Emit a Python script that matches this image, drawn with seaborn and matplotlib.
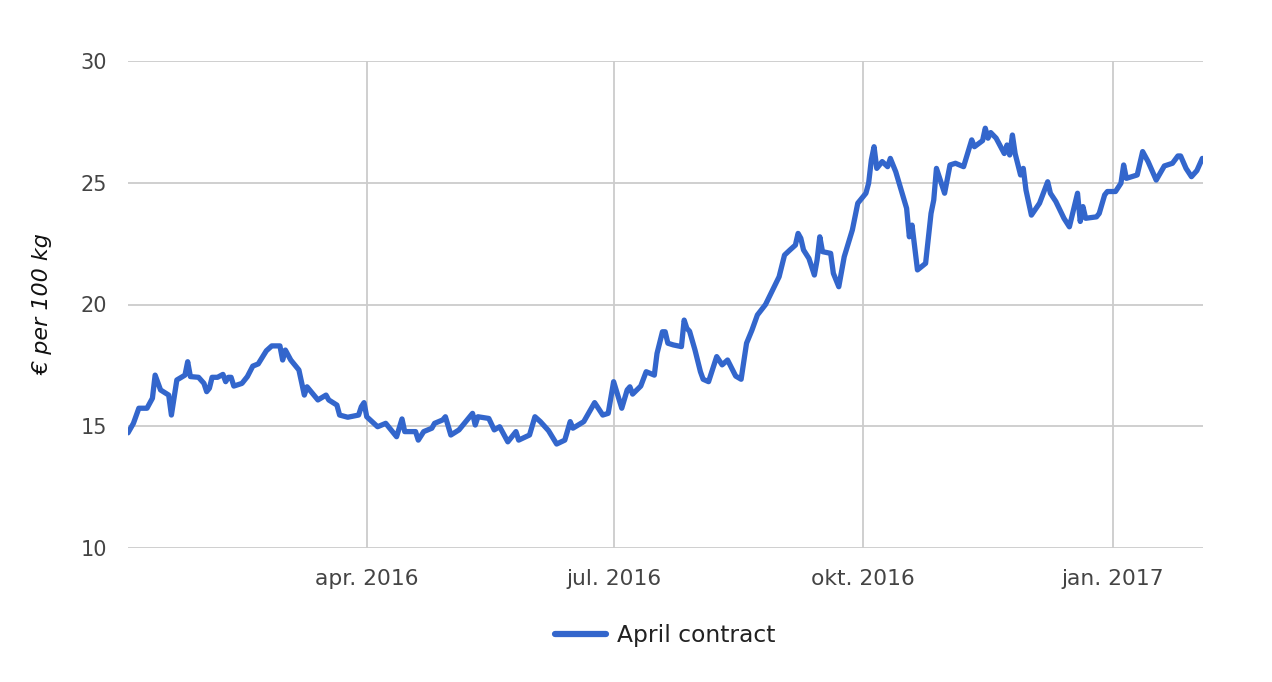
import matplotlib
matplotlib.use("Agg")
import matplotlib.pyplot as plt
import matplotlib.ticker as mticker
import matplotlib.dates as mdates
import seaborn as sns
import pandas as pd

dates = [
    "2016-01-04", "2016-01-06", "2016-01-08", "2016-01-11", "2016-01-13", "2016-01-14",
    "2016-01-16", "2016-01-19", "2016-01-20", "2016-01-22", "2016-01-25", "2016-01-26",
    "2016-01-27", "2016-01-30", "2016-02-01", "2016-02-02", "2016-02-03", "2016-02-04",
    "2016-02-06", "2016-02-08", "2016-02-09", "2016-02-10", "2016-02-11", "2016-02-12",
    "2016-02-15", "2016-02-17", "2016-02-19", "2016-02-21", "2016-02-24", "2016-02-26",
    "2016-02-29", "2016-03-01", "2016-03-02", "2016-03-04", "2016-03-07", "2016-03-09",
    "2016-03-10", "2016-03-14", "2016-03-17", "2016-03-18", "2016-03-21", "2016-03-22",
    "2016-03-25", "2016-03-29", "2016-03-30", "2016-03-31", "2016-04-01", "2016-04-05",
    "2016-04-08", "2016-04-12", "2016-04-14", "2016-04-15", "2016-04-17", "2016-04-19",
    "2016-04-20", "2016-04-22", "2016-04-25", "2016-04-26", "2016-04-29", "2016-04-30",
    "2016-05-02", "2016-05-05", "2016-05-10", "2016-05-11", "2016-05-12", "2016-05-16",
    "2016-05-18", "2016-05-20", "2016-05-23", "2016-05-26", "2016-05-27", "2016-05-31",
    "2016-06-02", "2016-06-04", "2016-06-07", "2016-06-10", "2016-06-13", "2016-06-15",
    "2016-06-16", "2016-06-20", "2016-06-24", "2016-06-27", "2016-06-29", "2016-07-01",
    "2016-07-04", "2016-07-06", "2016-07-07", "2016-07-08", "2016-07-11", "2016-07-13",
    "2016-07-16", "2016-07-17", "2016-07-19", "2016-07-20", "2016-07-21", "2016-07-23",
    "2016-07-26", "2016-07-27", "2016-07-28", "2016-07-29", "2016-07-31", "2016-08-02",
    "2016-08-03", "2016-08-05", "2016-08-08", "2016-08-10", "2016-08-12", "2016-08-15",
    "2016-08-17", "2016-08-19", "2016-08-21", "2016-08-23", "2016-08-26", "2016-08-28",
    "2016-08-31", "2016-09-02", "2016-09-04", "2016-09-06", "2016-09-07", "2016-09-08",
    "2016-09-09", "2016-09-11", "2016-09-13", "2016-09-14", "2016-09-15", "2016-09-16",
    "2016-09-19", "2016-09-20", "2016-09-22", "2016-09-24", "2016-09-27", "2016-09-29",
    "2016-10-02", "2016-10-03", "2016-10-04", "2016-10-05", "2016-10-06", "2016-10-08",
    "2016-10-10", "2016-10-11", "2016-10-13", "2016-10-17", "2016-10-18", "2016-10-19",
    "2016-10-21", "2016-10-24", "2016-10-26", "2016-10-27", "2016-10-28", "2016-10-31",
    "2016-11-02", "2016-11-04", "2016-11-07", "2016-11-10", "2016-11-11", "2016-11-14",
    "2016-11-15", "2016-11-16", "2016-11-17", "2016-11-19", "2016-11-22", "2016-11-23",
    "2016-11-24", "2016-11-25", "2016-11-26", "2016-11-28", "2016-11-29", "2016-11-30",
    "2016-12-02", "2016-12-05", "2016-12-08", "2016-12-09", "2016-12-11", "2016-12-14",
    "2016-12-16", "2016-12-19", "2016-12-20", "2016-12-21", "2016-12-22", "2016-12-26",
    "2016-12-27", "2016-12-29", "2016-12-30", "2017-01-02", "2017-01-04", "2017-01-05",
    "2017-01-06", "2017-01-10", "2017-01-12", "2017-01-14", "2017-01-17", "2017-01-20",
    "2017-01-23", "2017-01-25", "2017-01-26", "2017-01-28", "2017-01-30", "2017-02-01",
    "2017-02-03",
]

april_contract = [
    14.73, 15.12, 15.74, 15.74, 16.15, 17.10,
    16.49, 16.28, 15.46, 16.90, 17.10, 17.65,
    17.04, 17.01, 16.76, 16.42, 16.56, 17.01,
    17.01, 17.13, 16.83, 17.01, 17.01, 16.65,
    16.76, 17.04, 17.47, 17.56, 18.10, 18.30,
    18.30, 17.72, 18.13, 17.72, 17.31, 16.28,
    16.62, 16.08, 16.28, 16.08, 15.87, 15.46,
    15.37, 15.46, 15.80, 15.97, 15.39, 14.98,
    15.12, 14.57, 15.30, 14.78, 14.78, 14.78,
    14.43, 14.78, 14.92, 15.12, 15.26, 15.39,
    14.64, 14.85, 15.53, 15.05, 15.39, 15.32,
    14.85, 14.98, 14.36, 14.78, 14.43, 14.64,
    15.39, 15.19, 14.82, 14.27, 14.43, 15.19,
    14.92, 15.19, 15.97, 15.46, 15.53, 16.83,
    15.74, 16.49, 16.62, 16.32, 16.65, 17.24,
    17.10, 17.99, 18.88, 18.88, 18.41, 18.34,
    18.27, 19.36, 19.02, 18.90, 18.13, 17.24,
    16.93, 16.83, 17.86, 17.52, 17.72, 17.06,
    16.93, 18.41, 18.95, 19.57, 20.00, 20.46,
    21.14, 22.03, 22.24, 22.44, 22.92, 22.72,
    22.24, 21.89, 21.21, 21.83, 22.78, 22.17,
    22.10, 21.28, 20.73, 21.96, 23.06, 24.16,
    24.57, 24.98, 25.94, 26.48, 25.59, 25.87,
    25.66, 26.00, 25.45, 23.95, 22.78, 23.26,
    21.42, 21.69, 23.74, 24.29, 25.59, 24.57,
    25.73, 25.80, 25.66, 26.76, 26.48, 26.73,
    27.24, 26.83, 27.06, 26.83, 26.20, 26.55,
    26.14, 26.96, 26.20, 25.32, 25.59, 24.70,
    23.67, 24.16, 25.04, 24.57, 24.23, 23.54,
    23.19, 24.57, 23.41, 24.02, 23.54, 23.60,
    23.74, 24.50, 24.64, 24.64, 24.98, 25.73,
    25.18, 25.32, 26.28, 25.87, 25.11, 25.69,
    25.80, 26.10, 26.10, 25.59, 25.25, 25.50,
    26.00,
]

series_name = "April contract"
y_label = "€ per 100 kg"
y_ticks = [10, 15, 20, 25, 30]
x_tick_dates = ["2016-04-01", "2016-07-01", "2016-10-01", "2017-01-01"]
x_tick_labels = ["apr. 2016", "jul. 2016", "okt. 2016", "jan. 2017"]

df = pd.DataFrame({"date": pd.to_datetime(dates), "value": april_contract, "series": series_name})

sns.set_theme(style="whitegrid")
plt.rcParams["font.family"] = ["DejaVu Sans"]

fig = plt.figure(figsize=(12.72, 6.82), dpi=100)
ax = fig.add_axes([128 / 1272, 1 - 548 / 682, (1203 - 128) / 1272, (548 - 61) / 682])

sns.lineplot(data=df, x="date", y="value", hue="series", palette=["#3366cc"],
             linewidth=3.8, ax=ax, legend=True)

ax.set_xlim(df["date"].min(), df["date"].max() + pd.Timedelta(hours=6))
ax.set_ylim(10, 30)
ax.yaxis.set_major_locator(mticker.FixedLocator(y_ticks))
ax.xaxis.set_major_locator(mticker.FixedLocator(mdates.date2num(pd.to_datetime(x_tick_dates))))
ax.set_xticklabels(x_tick_labels)

ax.grid(True, color="#cccccc", linewidth=1.3)
ax.set_axisbelow(True)
for s in ax.spines.values():
    s.set_visible(False)
ax.tick_params(axis="both", length=0, labelcolor="#444444")
ax.tick_params(axis="y", pad=15, labelsize=15)
ax.tick_params(axis="x", pad=15, labelsize=15.7)

ax.set_xlabel("")
ax.set_ylabel(y_label, fontsize=16, fontstyle="italic", color="#111111")
ax.yaxis.set_label_coords((52 - 128) / 1075, 0.5)

handles, labels = ax.get_legend_handles_labels()
ax.legend(handles, labels, loc="center", bbox_to_anchor=(0.5, -0.18), frameon=False,
          fontsize=16.8, handlelength=2.15, handletextpad=0.5, labelcolor="#222222")
for line in ax.get_legend().get_lines():
    line.set_linewidth(4.5)

fig.savefig("out.png", dpi=100, facecolor="white")
